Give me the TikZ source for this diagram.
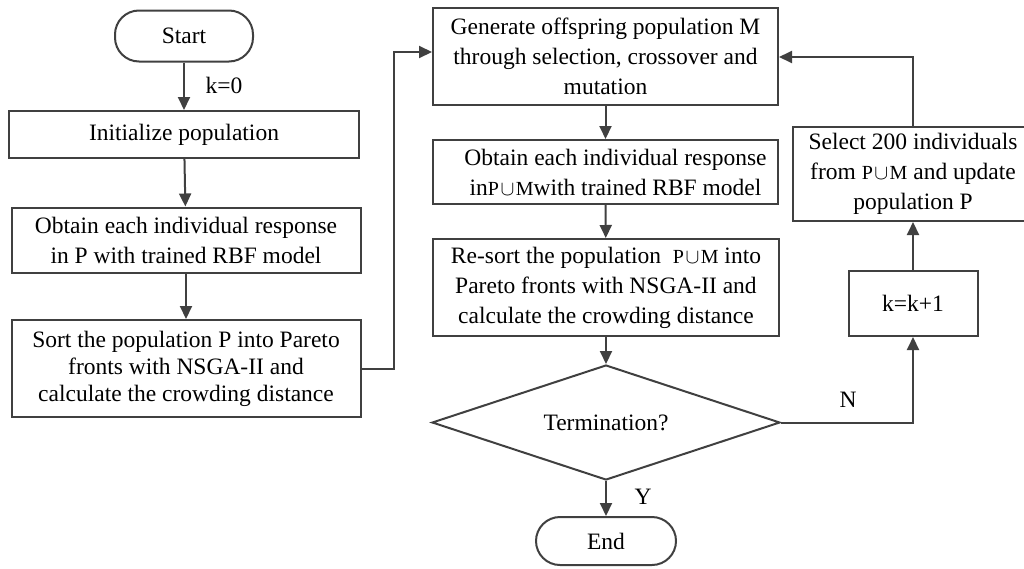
\documentclass[tikz,border=0pt]{standalone}
\usepackage{fontspec}
\setmainfont{Liberation Serif}
\usetikzlibrary{arrows.meta,shapes.geometric}
\definecolor{ln}{HTML}{404040}
\newcommand{\PUM}{{\fontsize{20}{20}\selectfont P\kern1.5pt$\cup$\kern1.5pt M}}
\tikzset{
  box/.style={draw=ln,line width=2pt,rectangle,inner sep=0pt,align=center,text=black,
    font=\fontsize{23.5}{30}\selectfont},
  term/.style={box,rounded corners=24pt},
  dec/.style={draw=ln,line width=2pt,diamond,inner sep=0pt,aspect=3,text=black,
    font=\fontsize{23.5}{30}\selectfont},
  arr/.style={draw=ln,line width=2pt,-{Triangle[length=13pt,width=12pt]}},
  lbl/.style={text=black,font=\fontsize{23.5}{30}\selectfont,inner sep=0pt}
}
\begin{document}
\begin{tikzpicture}[x=1pt,y=-1pt]
\useasboundingbox (0,0) rectangle (1024,568);
\node[term,minimum width=138pt,minimum height=51pt] (start) at (184,36) {Start};
\node[box,minimum width=350pt,minimum height=47pt] (init) at (184,134.5) {Initialize population};
\node[box,minimum width=349pt,minimum height=65pt] (obt) at (186,240) {Obtain each individual response\\in P with trained RBF model};
\node[box,minimum width=349pt,minimum height=97pt,font=\fontsize{23.5}{27}\selectfont] (sort) at (186,368.5) {Sort the population P into Pareto\\fronts with NSGA-II and\\calculate the crowding distance};
\node[box,minimum width=345pt,minimum height=97pt] (gen) at (605.5,56.5) {Generate offspring population M\\through selection, crossover and\\mutation};
\node[box,minimum width=345pt,minimum height=64pt] (obt2) at (605.5,172) {\hspace*{20pt}Obtain each individual response\\\hspace*{20pt}in\PUM with trained RBF model};
\node[box,minimum width=346pt,minimum height=97pt] (res) at (606,287.5) {Re-sort the population \ \PUM\ into\\Pareto fronts with NSGA-II and\\calculate the crowding distance};
\node[dec,minimum width=348pt,minimum height=115pt] (dia) at (606,422.5) {Termination?};
\node[term,minimum width=140pt,minimum height=48pt] (end) at (606,541) {End};
\node[box,minimum width=129pt,minimum height=65pt] (kk) at (913,303.5) {k=k+1};
\node[box,minimum width=240pt,minimum height=94pt] (sel) at (913,174) {Select 200 individuals\\from \PUM\ and update\\population P};
\coordinate (c1) at (394,52);
\coordinate (c2) at (913,57);
\draw[arr] (start) -- (init);
\node[lbl] (k0) at (224,85) {k=0};
\draw[arr] (init) -- (obt);
\draw[arr] (obt) -- (sort);
\draw[arr] (sort.east) -| (c1) -- (gen.west |- c1);
\draw[arr] (gen) -- (obt2);
\draw[arr] (obt2) -- (res);
\draw[arr] (res) -- (dia);
\draw[arr] (dia) -- (end);
\node[lbl] (y) at (643,497) {Y};
\draw[arr] (dia.east) -| (kk.south);
\node[lbl] (n) at (848,400) {N};
\draw[arr] (kk) -- (sel);
\draw[arr] (sel.north) -- (c2) -- (gen.east |- c2);
\end{tikzpicture}
\end{document}
